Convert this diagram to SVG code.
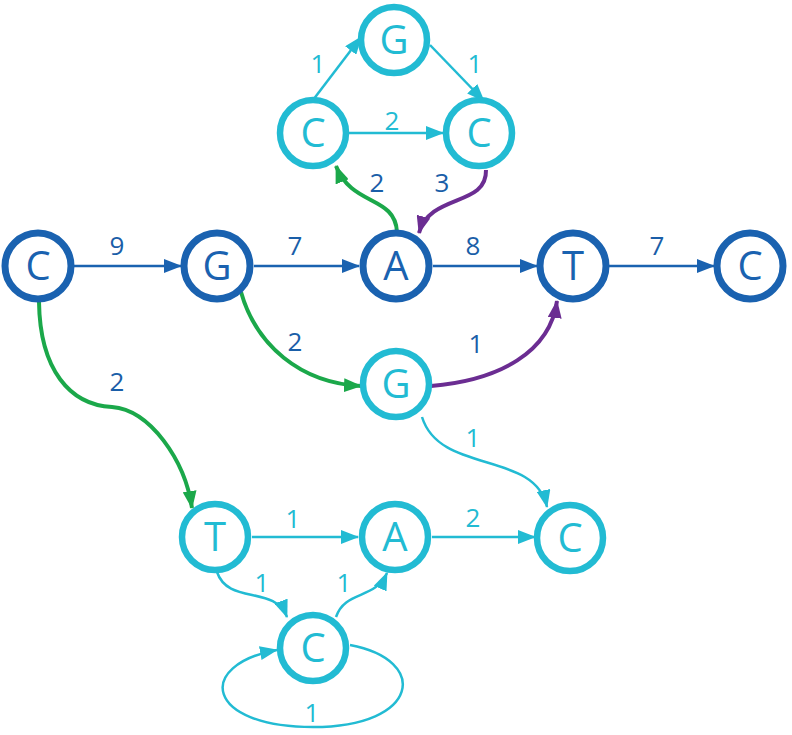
<svg xmlns="http://www.w3.org/2000/svg" width="792" height="735" viewBox="0 0 792 735">
<style>
.bg{fill:#ffffff}
.nd circle{fill:#ffffff;stroke-width:6.5}
.dk circle{stroke:#1a62b0;stroke-width:7}
.cy circle{stroke:#22bbd3}
.nd text{font-family:"Open Sans","DejaVu Sans",sans-serif;font-size:40px;text-anchor:middle}
.dk text{fill:#1a62b0}
.cy text{fill:#22bbd3}
.e{fill:none}
.ed{stroke:#1a62b0;stroke-width:2.5}
.ec{stroke:#22bbd3;stroke-width:2.5}
.eg{stroke:#1ba84a;stroke-width:4}
.ep{stroke:#6b2d92;stroke-width:4}
.lb{font-family:"Open Sans","DejaVu Sans",sans-serif;font-size:26px;text-anchor:middle}
.ld{fill:#1a5ea8}
.lc{fill:#22bbd3}
</style>
<defs>
<marker id="ad" markerUnits="userSpaceOnUse" markerWidth="18" markerHeight="14" refX="17" refY="7" orient="auto"><path d="M0,0 L18,7 L0,14 Z" fill="#1a62b0"/></marker>
<marker id="ac" markerUnits="userSpaceOnUse" markerWidth="18" markerHeight="14" refX="17" refY="7" orient="auto"><path d="M0,0 L18,7 L0,14 Z" fill="#22bbd3"/></marker>
<marker id="ag" markerUnits="userSpaceOnUse" markerWidth="18" markerHeight="14" refX="17" refY="7" orient="auto"><path d="M0,0 L18,7 L0,14 Z" fill="#1ba84a"/></marker>
<marker id="ap" markerUnits="userSpaceOnUse" markerWidth="18" markerHeight="14" refX="17" refY="7" orient="auto"><path d="M0,0 L18,7 L0,14 Z" fill="#6b2d92"/></marker>
</defs>
<rect class="bg" x="0" y="0" width="792" height="735"/>
<g id="connectors">
<path class="e ed" d="M74,266 L181,266" marker-end="url(#ad)"/>
<path class="e ed" d="M254,266 L359,266" marker-end="url(#ad)"/>
<path class="e ed" d="M433,266 L537,266" marker-end="url(#ad)"/>
<path class="e ed" d="M609,266 L714,266" marker-end="url(#ad)"/>
<path class="e eg" d="M39,302 C40,370 70,405 112,407 C150,410 185,460 192,508" marker-end="url(#ag)"/>
<path class="e eg" d="M241,292 C256,345 300,383 361,386" marker-end="url(#ag)"/>
<path class="e ep" d="M431,386 C500,380 550,352 557,301" marker-end="url(#ap)"/>
<path class="e eg" d="M397,232 C395,195 352,207 336,166" marker-end="url(#ag)"/>
<path class="e ep" d="M486,170 C487,207 430,193 419,233" marker-end="url(#ap)"/>
<path class="e ec" d="M313,100 L361,37" marker-end="url(#ac)"/>
<path class="e ec" d="M430,45 L484,101" marker-end="url(#ac)"/>
<path class="e ec" d="M349,133 L443,133" marker-end="url(#ac)"/>
<path class="e ec" d="M422,417 C440,475 535,450 547,507" marker-end="url(#ac)"/>
<path class="e ec" d="M252,537 L358,537" marker-end="url(#ac)"/>
<path class="e ec" d="M432,537 L535,537" marker-end="url(#ac)"/>
<path class="e ec" d="M217,572 C228,605 275,585 287,617" marker-end="url(#ac)"/>
<path class="e ec" d="M336,617 C345,590 375,600 387,573" marker-end="url(#ac)"/>
<path class="e ec" d="M350,645 C430,660 420,727 313,727 C205,727 195,665 277,650" marker-end="url(#ac)"/>
</g>
<g id="labels">
<text class="lb ld" x="117" y="255">9</text>
<text class="lb ld" x="295" y="255">7</text>
<text class="lb ld" x="473" y="255">8</text>
<text class="lb ld" x="657" y="255">7</text>
<text class="lb ld" x="117" y="391">2</text>
<text class="lb ld" x="295" y="351">2</text>
<text class="lb ld" x="476" y="353">1</text>
<text class="lb ld" x="377" y="192">2</text>
<text class="lb ld" x="442" y="192">3</text>
<text class="lb lc" x="318" y="73">1</text>
<text class="lb lc" x="475" y="73">1</text>
<text class="lb lc" x="392" y="130">2</text>
<text class="lb lc" x="473" y="447">1</text>
<text class="lb lc" x="293" y="528">1</text>
<text class="lb lc" x="473" y="527">2</text>
<text class="lb lc" x="262" y="592">1</text>
<text class="lb lc" x="344" y="592">1</text>
<text class="lb lc" x="312" y="722">1</text>
</g>
<g id="n1" class="nd dk"><circle cx="38" cy="266" r="33"/><text x="38" y="280">C</text></g>
<g id="n2" class="nd dk"><circle cx="217" cy="266" r="33"/><text x="217" y="280">G</text></g>
<g id="n3" class="nd dk"><circle cx="396" cy="266" r="33"/><text x="396" y="280">A</text></g>
<g id="n4" class="nd dk"><circle cx="573" cy="266" r="33"/><text x="573" y="280">T</text></g>
<g id="n5" class="nd dk"><circle cx="750" cy="266" r="33"/><text x="750" y="280">C</text></g>
<g id="n6" class="nd cy"><circle cx="394" cy="40" r="33"/><text x="394" y="54">G</text></g>
<g id="n7" class="nd cy"><circle cx="313" cy="133" r="33"/><text x="313" y="147">C</text></g>
<g id="n8" class="nd cy"><circle cx="479" cy="133" r="33"/><text x="479" y="147">C</text></g>
<g id="n9" class="nd cy"><circle cx="396" cy="384" r="33"/><text x="396" y="398">G</text></g>
<g id="n10" class="nd cy"><circle cx="215" cy="537" r="33"/><text x="215" y="551">T</text></g>
<g id="n11" class="nd cy"><circle cx="395" cy="537" r="33"/><text x="395" y="551">A</text></g>
<g id="n12" class="nd cy"><circle cx="570" cy="538" r="33"/><text x="570" y="552">C</text></g>
<g id="n13" class="nd cy"><circle cx="313" cy="648" r="33"/><text x="313" y="662">C</text></g>
</svg>
